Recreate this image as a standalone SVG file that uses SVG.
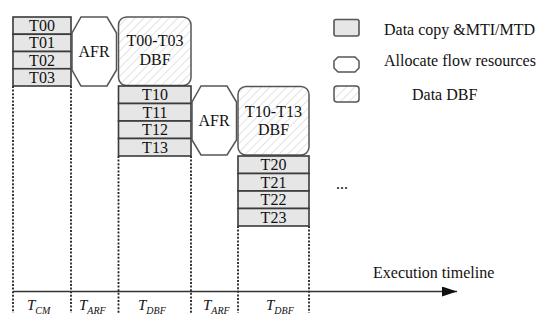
<svg xmlns="http://www.w3.org/2000/svg" width="550" height="330" viewBox="0 0 550 330">
<style>
text{font-family:"Liberation Serif","Times New Roman",serif;fill:#111}
.t{font-size:16px;text-anchor:middle}
.cell{fill:#e6e6e6;stroke:#3a3a3a;stroke-width:1.6}
.oct{fill:#fff;stroke:#555;stroke-width:1.5}
.dbf{fill:url(#hatch);stroke:#555;stroke-width:1.5}
.dot{stroke:#222;stroke-width:1.8;stroke-dasharray:2,1.6;fill:none}
.axis{stroke:#333;stroke-width:1.5;fill:none}
.lab{font-size:15px;font-style:italic}
.sub{font-size:10px}
</style>
<defs>
<pattern id="hatch" patternUnits="userSpaceOnUse" width="6" height="6" patternTransform="rotate(45)">
<rect width="6" height="6" fill="#fff"/>
<line x1="0" y1="0" x2="0" y2="6" stroke="#cfcfcf" stroke-width="1.2"/>
</pattern>
<marker id="arr" markerWidth="15" markerHeight="10" refX="15" refY="5" orient="auto" markerUnits="userSpaceOnUse">
<path d="M0,0 L15,5 L0,10 Z" fill="#111"/>
</marker>
</defs>
<rect width="550" height="330" fill="#fff"/>

<g id="connectors">
<line class="dot" x1="13" y1="86" x2="13" y2="313"/>
<line class="dot" x1="71" y1="86" x2="71" y2="313"/>
<line class="dot" x1="118.5" y1="156" x2="118.5" y2="313"/>
<line class="dot" x1="191" y1="156" x2="191" y2="313"/>
<line class="dot" x1="238" y1="226" x2="238" y2="313"/>
<line class="dot" x1="309" y1="226" x2="309" y2="313"/>
<line class="axis" x1="13" y1="291.5" x2="457" y2="291.5" marker-end="url(#arr)"/>
</g>

<g id="cm0">
<rect class="cell" x="13" y="17" width="58" height="17.25"/>
<rect class="cell" x="13" y="34.25" width="58" height="17.25"/>
<rect class="cell" x="13" y="51.5" width="58" height="17.25"/>
<rect class="cell" x="13" y="68.75" width="58" height="17.25"/>
<text class="t" x="42" y="31">T00</text>
<text class="t" x="42" y="48.2">T01</text>
<text class="t" x="42" y="65.5">T02</text>
<text class="t" x="42" y="82.7">T03</text>
</g>

<g id="afr1">
<polygon class="oct" points="81,17 107,17 116.5,33 116.5,70 107,86 81,86 72,70 72,33"/>
<text class="t" x="94" y="57">AFR</text>
</g>

<g id="dbf1">
<rect class="dbf" x="118.5" y="17" width="72.5" height="68.5" rx="8"/>
<text class="t" x="155" y="46">T00-T03</text>
<text class="t" x="155" y="65">DBF</text>
</g>

<g id="cm1">
<rect class="cell" x="118.5" y="86" width="72.5" height="17.5"/>
<rect class="cell" x="118.5" y="103.5" width="72.5" height="17.5"/>
<rect class="cell" x="118.5" y="121" width="72.5" height="17.5"/>
<rect class="cell" x="118.5" y="138.5" width="72.5" height="17.5"/>
<text class="t" x="155" y="100">T10</text>
<text class="t" x="155" y="117.5">T11</text>
<text class="t" x="155" y="135">T12</text>
<text class="t" x="155" y="152.5">T13</text>
</g>

<g id="afr2">
<polygon class="oct" points="201,86 227,86 236.5,102 236.5,140 227,155 201,155 192,140 192,102"/>
<text class="t" x="214" y="126">AFR</text>
</g>

<g id="dbf2">
<rect class="dbf" x="238" y="86.5" width="71" height="68.5" rx="8"/>
<text class="t" x="273.5" y="116.5">T10-T13</text>
<text class="t" x="273.5" y="135">DBF</text>
</g>

<g id="cm2">
<rect class="cell" x="238" y="156" width="71" height="17.5"/>
<rect class="cell" x="238" y="173.5" width="71" height="17.5"/>
<rect class="cell" x="238" y="191" width="71" height="17.5"/>
<rect class="cell" x="238" y="208.5" width="71" height="17.5"/>
<text class="t" x="273.5" y="170">T20</text>
<text class="t" x="273.5" y="187.5">T21</text>
<text class="t" x="273.5" y="205">T22</text>
<text class="t" x="273.5" y="222.5">T23</text>
</g>

<g id="ellipsis">
<text class="t" x="342" y="189">...</text>
</g>

<g id="legend">
<rect class="cell" x="334" y="19.5" width="25" height="16.5" rx="2" style="stroke:#555"/>
<text x="384" y="35" font-size="16">Data copy &amp;MTI/MTD</text>
<polygon class="oct" points="338,57 355,57 359,61 359,68 355,72 338,72 334,68 334,61"/>
<text x="384" y="66" font-size="16">Allocate flow resources</text>
<rect class="dbf" x="334" y="86" width="25" height="16" rx="3"/>
<text x="412" y="100" font-size="16">Data DBF</text>
</g>

<g id="timeline">
<text x="373" y="278" font-size="16">Execution timeline</text>
<text class="lab" x="27" y="309.5">T<tspan class="sub" dy="4.5">CM</tspan></text>
<text class="lab" x="79" y="309.5">T<tspan class="sub" dy="4.5">ARF</tspan></text>
<text class="lab" x="138" y="309.5">T<tspan class="sub" dy="4.5">DBF</tspan></text>
<text class="lab" x="203" y="309.5">T<tspan class="sub" dy="4.5">ARF</tspan></text>
<text class="lab" x="266" y="309.5">T<tspan class="sub" dy="4.5">DBF</tspan></text>
</g>
</svg>
